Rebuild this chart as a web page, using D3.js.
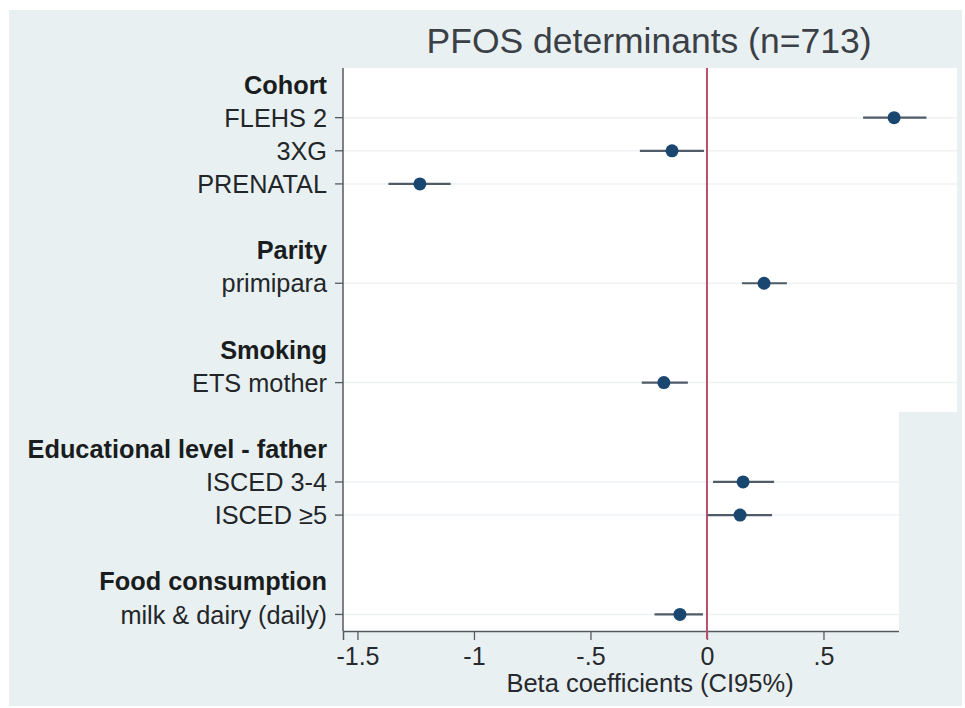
<!DOCTYPE html>
<html>
<head>
<meta charset="utf-8">
<script src="https://cdn.jsdelivr.net/npm/d3@7"></script>
<style>
  body { margin: 0; background: #ffffff; }
  svg { display: block; }
  text { font-family: "Liberation Sans", Arial, sans-serif; }
</style>
</head>
<body>
<svg id="chart" width="965" height="708"></svg>
<script>
// Row layout of the coefficient plot (group headers, variables, spacer rows)
const rowOrder = ["Cohort", "FLEHS 2", "3XG", "PRENATAL", "_gap1",
  "Parity", "primipara", "_gap2",
  "Smoking", "ETS mother", "_gap3",
  "Educational level - father", "ISCED 3-4", "ISCED ≥5", "_gap4",
  "Food consumption", "milk & dairy (daily)"];
const headers = ["Cohort", "Parity", "Smoking", "Educational level - father", "Food consumption"];

// Regression estimates with 95% confidence limits
const variables = ["FLEHS 2", "3XG", "PRENATAL", "primipara", "ETS mother", "ISCED 3-4", "ISCED ≥5", "milk & dairy (daily)"];
const beta   = [0.803, -0.150, -1.232, 0.245, -0.185, 0.155, 0.142, -0.116];
const ciLow  = [0.670, -0.288, -1.367, 0.150, -0.280, 0.026, 0.002, -0.225];
const ciHigh = [0.942, -0.013, -1.100, 0.343, -0.082, 0.288, 0.279, -0.017];

const xTicks = [-1.5, -1, -0.5, 0, 0.5];
const xTickLabels = ["-1.5", "-1", "-.5", "0", ".5"];

const title = "PFOS determinants (n=713)";
const xTitle = "Beta coefficients (CI95%)";

const svg = d3.select("#chart");
const panelColor = "#e9f0f2";
const labelSize = 25.3;

const plot = { left: 343, right: 957, top: 68, bottom: 631 };

const x = d3.scaleLinear().domain([-1.562, 1.073]).range([plot.left, plot.right]);
const y = d3.scalePoint().domain(rowOrder).range([plot.top, plot.bottom]).padding(0.5);

// graph region
svg.append("rect").attr("x", 9).attr("y", 10).attr("width", 953).attr("height", 696)
  .attr("fill", panelColor);

// plot region
svg.append("rect").attr("x", plot.left).attr("y", plot.top)
  .attr("width", plot.right - plot.left).attr("height", plot.bottom - plot.top)
  .attr("fill", "#ffffff");

// horizontal grid lines at each variable
svg.append("g").selectAll("line").data(variables).join("line")
  .attr("x1", plot.left).attr("x2", plot.right)
  .attr("y1", d => y(d)).attr("y2", d => y(d))
  .attr("stroke", "#eef2f4").attr("stroke-width", 1.5);

// title
svg.append("text").attr("x", 649).attr("y", 53).attr("text-anchor", "middle")
  .attr("font-size", 35.5).attr("fill", "#3b4046").text(title);

// y axis: ticks only on variable rows, headers in bold
const yAxis = svg.append("g").attr("transform", `translate(${plot.left},0)`);
yAxis.append("line").attr("x1", 0).attr("x2", 0).attr("y1", plot.top).attr("y2", plot.bottom)
  .attr("stroke", "#555a5f").attr("stroke-width", 1.5);
yAxis.selectAll("line.tick").data(variables).join("line").attr("class", "tick")
  .attr("x1", -8).attr("x2", 0).attr("y1", d => y(d)).attr("y2", d => y(d))
  .attr("stroke", "#555a5f").attr("stroke-width", 1.3);
yAxis.selectAll("text.var").data(variables).join("text").attr("class", "var")
  .attr("x", -16).attr("y", d => y(d)).attr("dy", "0.36em")
  .attr("text-anchor", "end").attr("font-size", labelSize).attr("fill", "#222629").text(d => d);
yAxis.selectAll("text.hdr").data(headers).join("text").attr("class", "hdr")
  .attr("x", -16).attr("y", d => y(d)).attr("dy", "0.36em")
  .attr("text-anchor", "end").attr("font-size", labelSize).attr("font-weight", "bold")
  .attr("fill", "#1a1d20").text(d => d);

// x axis
const xAxis = d3.axisBottom(x).tickValues(xTicks).tickSize(9).tickPadding(7)
  .tickFormat((d, i) => xTickLabels[i]);
const gx = svg.append("g").attr("transform", `translate(0,${plot.bottom})`).call(xAxis);
gx.select(".domain").attr("stroke", "#555a5f").attr("stroke-width", 1.5);
gx.selectAll(".tick line").attr("stroke", "#555a5f").attr("stroke-width", 1.3);
gx.selectAll(".tick text").attr("font-size", 25).attr("fill", "#26292d")
  .attr("font-family", "'Liberation Sans', Arial, sans-serif");

svg.append("text").attr("x", 650).attr("y", 692).attr("text-anchor", "middle")
  .attr("font-size", 25.5).attr("fill", "#26292d").text(xTitle);

// reference line at zero
svg.append("line").attr("x1", x(0)).attr("x2", x(0))
  .attr("y1", plot.top).attr("y2", plot.bottom + 8)
  .attr("stroke", "#b8506e").attr("stroke-width", 2);

// confidence intervals and point estimates
const marks = svg.append("g");
marks.selectAll("line").data(variables).join("line")
  .attr("x1", (d, i) => x(ciLow[i])).attr("x2", (d, i) => x(ciHigh[i]))
  .attr("y1", d => y(d)).attr("y2", d => y(d))
  .attr("stroke", "#4f5b66").attr("stroke-width", 2.2);
marks.selectAll("circle").data(variables).join("circle")
  .attr("cx", (d, i) => x(beta[i])).attr("cy", d => y(d)).attr("r", 6.5)
  .attr("fill", "#1a476f");

// patch of graph-region colour over the lower-right corner
svg.append("rect").attr("x", 899).attr("y", 412).attr("width", 63).attr("height", 294)
  .attr("fill", panelColor);
</script>
</body>
</html>
